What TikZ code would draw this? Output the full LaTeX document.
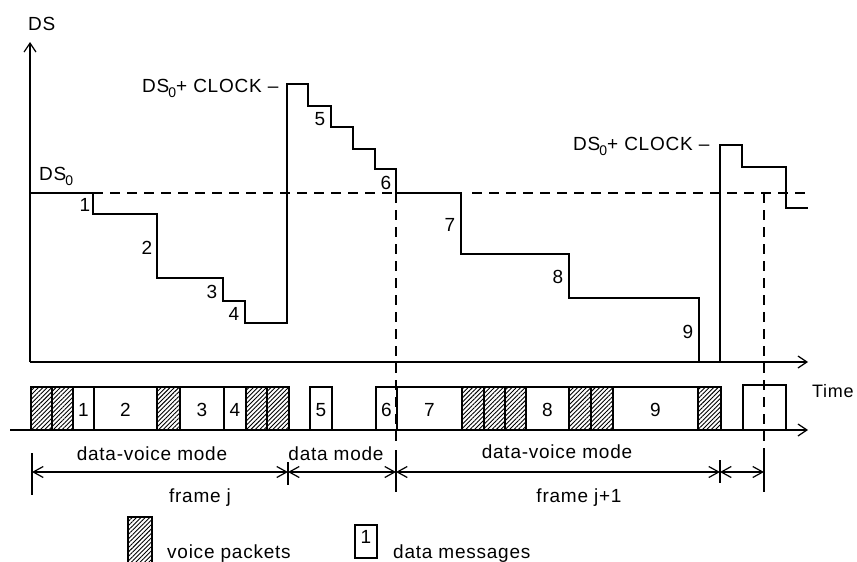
\documentclass[tikz,border=0pt]{standalone}
\usepackage{fontspec}
\setmainfont{Liberation Sans}[LetterSpace=4]
\usetikzlibrary{arrows.meta,patterns.meta}

\tikzset{
  ln/.style={line width=1.3pt},
  dsh/.style={line width=1.2pt, dash pattern=on 10pt off 7pt},
  voice/.style={draw, line width=1.1pt,
    pattern={Lines[angle=45,distance=3.1pt,line width=0.9pt]}},
  msg/.style={draw, line width=1.1pt},
  lbl/.style={font=\fontsize{19}{22}\selectfont, inner sep=0pt},
  barb/.style={-{Straight Barb[length=9pt,width=12pt,line width=1.2pt]}},
  dim/.style={line width=1.2pt,
    {Straight Barb[length=10pt,width=11pt,line width=1.2pt]}-{Straight Barb[length=10pt,width=11pt,line width=1.2pt]}},
}
\newcommand{\dsz}{DS\kern-1pt\raisebox{-5pt}{\fontsize{14}{14}\selectfont 0}}

\begin{document}
\begin{tikzpicture}[x=1pt,y=-1pt]
\useasboundingbox (0,0) rectangle (857,562);

% ---- DS versus time plot ----
\coordinate (O) at (30,362);
\coordinate (Ytop) at (30,42);
\coordinate (Xend) at (808,362);
\draw[ln,barb] (O) -- (Ytop);
\draw[ln,barb] (O) -- (Xend);
\node[lbl,anchor=base west] (dslab) at (28,30) {DS};

% reference level DS_0
\draw[dsh] (93,193) -- (396,193);
\draw[dsh] (472,193) -- (808,193);

% DS staircase
\draw[ln] (30,193) -| (93,214) -| (157,278) -| (223,301) -| (245,323)
  -| (287,84) -| (308,106) -| (331,127) -| (353,149) -| (375,169)
  -| (396,193) -| (461,254) -| (569,298) -| (699,362) -- (720,362)
  -- (720,145) -| (742,167) -| (786,208) -- (808,208);

% level labels
\node[lbl,anchor=base west] (ds0) at (39,180) {\dsz};
\node[lbl,anchor=base west] (clk1) at (142,92) {\dsz+ CLOCK –};
\node[lbl,anchor=base west] (clk2) at (573,150) {\dsz+ CLOCK –};

% step numbers
\foreach \n/\x/\y in {1/85/205, 2/147/248, 3/212/292, 4/234/314,
                      5/320/119, 6/386/183, 7/450/225, 8/558/277, 9/688/332}
  \node[lbl] (s\n) at (\x,\y) {\n};

% frame boundaries (dashed)
\draw[dsh] (396,193) -- (396,442);
\draw[dsh] (764,193) -- (764,442);

% ---- packet row ----
\foreach \a/\b in {31/52, 52/73, 157/180, 246/267, 267/289, 462/484,
                   484/505, 505/526, 569/591, 591/613, 698/721}
  \draw[voice] (\a,387) rectangle (\b,430);
\foreach \a/\b/\t in {73/94/1, 94/157/2, 180/224/3, 224/246/4, 310/332/5,
                      376/397/6, 397/462/7, 526/569/8, 613/698/9}{
  \draw[msg] (\a,387) rectangle (\b,430);
  \node[lbl] (p\t) at ({(\a+\b)/2},410) {\t};
}
\draw[msg] (743,385) rectangle (786,430);

\coordinate (T0) at (10,430);
\coordinate (T1) at (808,430);
\draw[ln,barb] (T0) -- (T1);
\node[lbl,font=\fontsize{18}{21}\selectfont,anchor=base west] (time) at (812,397) {Time};

% ---- mode and frame spans ----
\coordinate (a0) at (32,472);
\coordinate (a1) at (288,472);
\coordinate (a2) at (396,472);
\coordinate (a3) at (720,472);
\coordinate (a4) at (764,472);
\draw[ln] (32,453) -- (32,495);
\draw[ln] (288,462) -- (288,485);
\draw[ln] (396,450) -- (396,492);
\draw[ln] (720,460) -- (720,483);
\draw[ln] (764,448) -- (764,492);
\draw[dim] (a0) -- (a1);
\draw[dim] (a1) -- (a2);
\draw[dim] (a2) -- (a3);
\draw[dim] (a3) -- (a4);

\node[lbl,anchor=base] (m1) at (152,460) {data-voice mode};
\node[lbl,anchor=base] (m2) at (336,460) {data mode};
\node[lbl,anchor=base] (m3) at (557,458) {data-voice mode};
\node[lbl,anchor=base] (f1) at (200,502) {frame j};
\node[lbl,anchor=base] (f2) at (579,502) {frame j+1};

% ---- legend ----
\draw[voice] (128,517) rectangle (152,564);
\node[lbl,anchor=base west] (lv) at (167,558) {voice packets};
\draw[msg] (355,525) rectangle (377,558);
\node[lbl] (l1) at (366,537) {1};
\node[lbl,anchor=base west] (ld) at (393,558) {data messages};
\end{tikzpicture}
\end{document}
